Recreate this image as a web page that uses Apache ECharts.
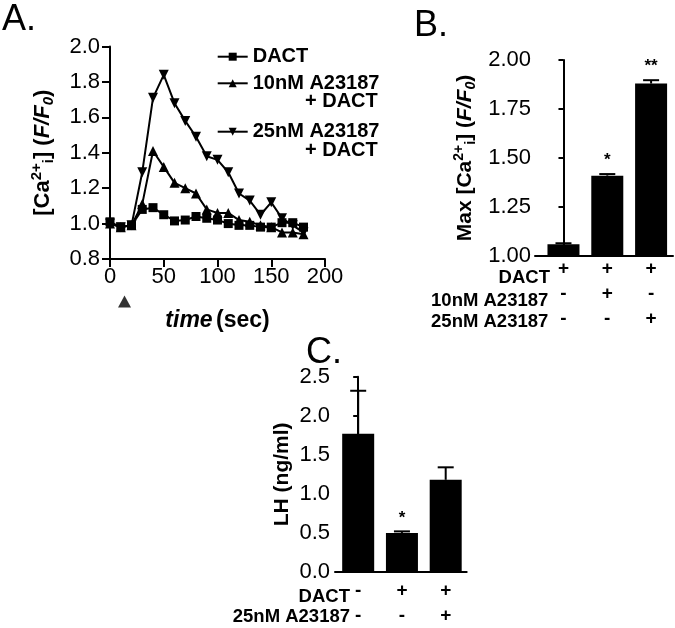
<!DOCTYPE html>
<html><head><meta charset="utf-8">
<script src="https://cdn.jsdelivr.net/npm/echarts@6/dist/echarts.min.js"></script>
<style>html,body{margin:0;padding:0;background:#fff}#c{width:675px;height:628px}</style>
</head><body><div id="c"></div>
<script>
// ---- Panel A data ----
const timeSec = [0,10,20,30,40,50,60,70,80,90,100,110,120,130,140,150,160,170,180];
const dactTrace = [1.01,0.98,0.99,1.08,1.09,1.05,1.015,1.02,1.04,1.03,1.02,1.0,0.99,0.99,0.98,0.98,1.005,1.005,0.98];
const a10Trace  = [1.0,0.98,0.99,1.11,1.41,1.32,1.23,1.2,1.17,1.08,1.06,1.06,1.02,1.01,0.99,0.98,0.95,0.95,0.94];
const a25Trace  = [1.0,0.98,0.99,1.29,1.71,1.84,1.68,1.58,1.49,1.38,1.36,1.29,1.17,1.13,1.05,1.12,1.03,0.99,0.95];
const seriesNamesA = ['DACT','10nM A23187','25nM A23187'];
const stimPoint = [13.5, 0.56];
// ---- Panel B data ----
const barIdx = [0,1,2];
const maxCa = [1.06,1.41,1.88];
const maxCaErr = [0.005,0.008,0.017];
const maxCaSig = ['','*','**'];
const rowB_DACT = ['+','+','+'];
const rowB_10 = ['-','+','-'];
const rowB_25 = ['-','-','+'];
const rowTitlesB = ['DACT','10nM A23187','25nM A23187'];
// ---- Panel C data ----
const lhVal = [1.77,0.50,1.18];
const lhErr = [0.55,0.02,0.16];
const lhSig = ['','*',''];
const rowC_DACT = ['-','+','+'];
const rowC_25 = ['-','-','+'];
const rowTitlesC = ['DACT','25nM A23187'];

const F = 'Liberation Sans, Arial, sans-serif';
const K = '#000';
const chart = echarts.init(document.getElementById('c'), null, {renderer:'canvas'});

function errRender(sigs){
  return function(params, api){
    const i = params.dataIndex;
    const x = api.value(0), v = api.value(1), e = api.value(2);
    const p0 = api.coord([x, v]); const p1 = api.coord([x, v + e]);
    const ch = [
      {type:'line', shape:{x1:p0[0], y1:p0[1], x2:p1[0], y2:p1[1]}, style:{stroke:K, lineWidth:2}},
      {type:'line', shape:{x1:p1[0]-8, y1:p1[1], x2:p1[0]+8, y2:p1[1]}, style:{stroke:K, lineWidth:2}}
    ];
    if (sigs[i]) ch.push({type:'text', x:p1[0], y:p1[1]-5, style:{text:sigs[i], font:'bold 17px '+F, fill:K, align:'center', verticalAlign:'bottom'}});
    return {type:'group', children:ch};
  };
}
const axisLineS = {show:true, lineStyle:{color:K, width:2}};
const tickLab = {color:K, fontFamily:F, fontSize:22};
function richTitle(m, s){
  return {
    b:{fontFamily:F, fontSize:m, fontWeight:'bold', color:K, lineHeight:m+5},
    sup:{fontFamily:F, fontSize:s, fontWeight:'bold', color:K, verticalAlign:'top', lineHeight:m+5},
    sub:{fontFamily:F, fontSize:s, fontWeight:'bold', color:K, verticalAlign:'bottom', lineHeight:m+5},
    i:{fontFamily:F, fontSize:m, fontWeight:'bold', fontStyle:'italic', color:K, lineHeight:m+5},
    isub:{fontFamily:F, fontSize:s, fontWeight:'bold', fontStyle:'italic', color:K, verticalAlign:'bottom', lineHeight:m+5}
  };
}

const trA = [dactTrace, a10Trace, a25Trace];
const symA = ['rect','triangle','triangle'];
const rotA = [0,0,180];
const sizeA = [9,10,10];

const option = {
  animation:false,
  backgroundColor:'#fff',
  grid:[
    {left:110, top:46.5, width:215, height:212.5},
    {left:535, top:60, width:138, height:196},
    {left:335, top:376.7, width:131.7, height:196}
  ],
  legend: seriesNamesA.map((n,k)=>({
    data:[n], orient:'vertical', left:211.7, top:[41.2,67.8,116.2][k],
    itemWidth:30, itemHeight:10, itemGap:0,
    textStyle:{fontFamily:F, fontSize:20, fontWeight:'bold', color:K, lineHeight:21},
    selectedMode:false
  })),
  xAxis:[
    {gridIndex:0, type:'value', min:0, max:200, interval:50,
     axisLine:axisLineS, axisTick:{show:true, length:8, lineStyle:{color:K,width:2}},
     axisLabel:Object.assign({margin:7}, tickLab), splitLine:{show:false},
     name:'{i|time} {b|(sec)}', nameLocation:'middle', nameGap:50,
     nameTextStyle:{rich:{i:{fontFamily:F,fontSize:23,fontWeight:'bold',fontStyle:'italic',color:K}, b:{fontFamily:F,fontSize:23,fontWeight:'bold',color:K}}}},
    {gridIndex:1, type:'value', min:-0.65, max:2.5,
     axisLine:axisLineS, axisTick:{show:false}, splitLine:{show:false},
     axisLabel:{customValues:barIdx, margin:0, color:K, fontFamily:F, fontSize:19, fontWeight:'bold', lineHeight:25,
       formatter:(v)=>{const i=Math.round(v); return rowB_DACT[i]+'\n'+rowB_10[i]+'\n'+rowB_25[i];}}},
    {gridIndex:2, type:'value', min:-0.53, max:2.48,
     axisLine:axisLineS, axisTick:{show:false}, splitLine:{show:false},
     axisLabel:{customValues:barIdx, margin:6, color:K, fontFamily:F, fontSize:19, fontWeight:'bold', lineHeight:25,
       formatter:(v)=>{const i=Math.round(v); return rowC_DACT[i]+'\n'+rowC_25[i];}}}
  ],
  yAxis:[
    {gridIndex:0, type:'value', min:0.8, max:2.0, interval:0.2,
     axisLine:axisLineS, axisTick:{show:true, length:8, lineStyle:{color:K,width:2}},
     axisLabel:Object.assign({margin:10, formatter:v=>v.toFixed(1)}, tickLab), splitLine:{show:false},
     name:'{b|[Ca}{sup|2+}{sub|i}{b|] (}{i|F/F}{isub|0}{b|)}', nameLocation:'middle', nameRotate:90, nameGap:54,
     nameTextStyle:{rich:richTitle(22,15)}},
    {gridIndex:1, type:'value', min:1.0, max:2.0, interval:0.25,
     axisLine:axisLineS, axisTick:{show:true, length:5, lineStyle:{color:K,width:2}},
     axisLabel:Object.assign({margin:4, formatter:v=>v.toFixed(2)}, tickLab), splitLine:{show:false},
     name:'{b|Max [Ca}{sup|2+}{sub|i}{b|] (}{i|F/F}{isub|0}{b|)}', nameLocation:'middle', nameRotate:90, nameGap:57,
     nameTextStyle:{rich:richTitle(21,14)}},
    {gridIndex:2, type:'value', min:0, max:2.5, interval:0.5,
     axisLine:axisLineS, axisTick:{show:true, length:5, lineStyle:{color:K,width:2}},
     axisLabel:Object.assign({margin:5, formatter:v=>v.toFixed(1)}, tickLab), splitLine:{show:false},
     name:'LH (ng/ml)', nameLocation:'middle', nameRotate:90, nameGap:42,
     nameTextStyle:{fontFamily:F, fontSize:21, fontWeight:'bold', color:K}}
  ],
  series:[
    ...seriesNamesA.map((n,k)=>({
      name:n, type:'line', xAxisIndex:0, yAxisIndex:0,
      data:timeSec.map((t,i)=>[t, trA[k][i]]),
      symbol:symA[k], symbolSize:sizeA[k], symbolRotate:rotA[k], showSymbol:true,
      lineStyle:{color:K, width:2}, itemStyle:{color:K}, z:3-k
    })),
    {type:'scatter', xAxisIndex:0, yAxisIndex:0, data:[stimPoint], symbol:'triangle', symbolSize:[13,12],
     itemStyle:{color:K}, clip:false, silent:true},
    {type:'bar', xAxisIndex:1, yAxisIndex:1, data:barIdx.map(i=>[i, maxCa[i]]), barWidth:32, itemStyle:{color:K}},
    {type:'custom', xAxisIndex:1, yAxisIndex:1, data:barIdx.map(i=>[i, maxCa[i], maxCaErr[i]]), renderItem:errRender(maxCaSig), z:5},
    {type:'bar', xAxisIndex:2, yAxisIndex:2, data:barIdx.map(i=>[i, lhVal[i]]), barWidth:32, itemStyle:{color:K}},
    {type:'custom', xAxisIndex:2, yAxisIndex:2, data:barIdx.map(i=>[i, lhVal[i], lhErr[i]]), renderItem:errRender(lhSig), z:5}
  ],
  graphic:[
    {type:'text', x:2, y:2, style:{text:'A.', font:'36px '+F, fill:K}},
    {type:'text', x:414, y:8, style:{text:'B.', font:'36px '+F, fill:K}},
    {type:'text', x:306, y:335, style:{text:'C.', font:'36px '+F, fill:K}},
    {type:'text', x:305, y:101.7, style:{text:'+ DACT', font:'bold 20px '+F, fill:K, verticalAlign:'middle'}},
    {type:'text', x:305, y:150, style:{text:'+ DACT', font:'bold 20px '+F, fill:K, verticalAlign:'middle'}},
    {type:'text', x:550, y:278.3, style:{text:rowTitlesB[0], font:'bold 18.5px '+F, fill:K, align:'right', verticalAlign:'middle'}},
    {type:'text', x:548.3, y:300.7, style:{text:rowTitlesB[1], font:'bold 18.5px '+F, fill:K, align:'right', verticalAlign:'middle'}},
    {type:'text', x:548.3, y:321.7, style:{text:rowTitlesB[2], font:'bold 18.5px '+F, fill:K, align:'right', verticalAlign:'middle'}},
    {type:'text', x:350, y:596.7, style:{text:rowTitlesC[0], font:'bold 18.5px '+F, fill:K, align:'right', verticalAlign:'middle'}},
    {type:'text', x:350, y:616.7, style:{text:rowTitlesC[1], font:'bold 18.5px '+F, fill:K, align:'right', verticalAlign:'middle'}}
  ]
};
chart.setOption(option);
</script></body></html>
